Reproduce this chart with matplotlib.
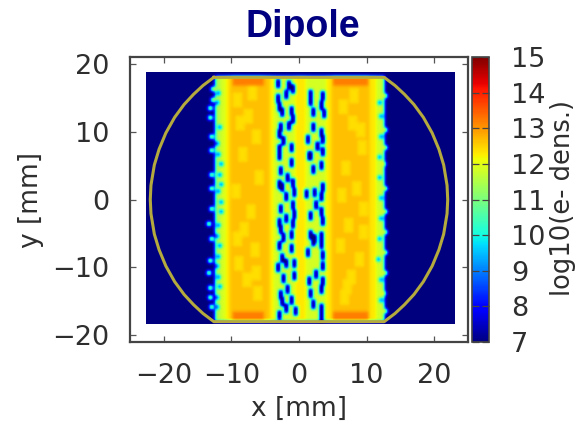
import numpy as np
import matplotlib
matplotlib.use("Agg")
import matplotlib.pyplot as plt

# --- values (x, y in mm; density in log10) ---
band_edges = [-22.7, -12.5, -11.7, -11.0, -10.3, -4.6, -3.9, -0.7, 0.9, 3.8, 4.6, 10.3, 11.2, 12.0, 12.4, 23.0]
band_dens  = [7.0, 11.5, 11.9, 12.3, 12.65, 12.3, 11.85, 12.3, 11.85, 12.3, 12.65, 12.3, 11.8, 11.6, 7.0]
cap_x0 = [-10.0, 4.9]
cap_x1 = [-5.4, 10.0]
cap_dens = 13.2

low_strip_x = [-3.2,-1.6,-1.0,-3.3,-2.1,-3.0,-2.7,-1.2,-1.0,-2.8,-1.6,-3.0,-1.3,-2.4,-3.1,
               -3.1,-1.3,-2.8,-1.8,-3.0,-2.7,-1.0,-0.85,-2.1,-1.1,-2.8,-0.85,-2.1,-3.0,-2.8,-1.0,-1.3,-2.4,
               -3.1,-1.3,-2.6,-2.1,-0.85,-3.2,-2.4,-0.85,-2.8,-1.8,-2.6,-2.1,-0.6,-3.0,-1.3,
               1.5,3.4,1.6,3.1,3.5,1.9,2.0,3.1,3.4,1.1,2.6,3.4,1.6,
               1.4,3.1,1.9,3.4,2.1,0.9,3.1,2.4,1.6,3.1,3.4,1.6,3.1,2.1,
               1.9,3.1,3.4,1.2,3.4,2.4,1.4,3.4,1.6,3.1,1.9,3.1,3.1]
low_strip_y = [16.8,16.6,16.0,14.6,15.2,13.5,12.6,12.9,11.7,10.4,10.7,7.2,7.5,8.4,9.4,
               6.2,5.3,4.0,3.0,2.1,1.6,2.3,0.8,0.35,-0.9,-1.6,-2.4,-2.9,-3.6,-4.6,-3.8,-5.3,-5.8,
               -7.0,-7.3,-8.7,-9.5,-9.5,-10.2,-11.7,-11.4,-14.1,-13.4,-15.1,-16.1,-16.6,-17.1,-14.9,
               15.2,15.1,14.3,13.6,12.4,12.6,10.4,9.7,8.7,8.7,7.7,6.9,6.3,
               6.2,4.8,4.3,1.6,0.8,0.6,0.35,-0.9,-2.6,-1.9,-3.3,-5.3,-5.5,-6.0,
               -6.3,-6.8,-8.3,-8.0,-9.9,-11.2,-12.2,-12.2,-13.9,-13.4,-15.6,-16.1,-17.4]
low_edge_x = [-12.0,-12.2,-11.9,-12.2,-12.0,-11.7,-11.8,-11.6,-12.0,-11.7,-11.7,-12.1,-12.2,-11.8,-12.1,-12.2,-12.0,-11.9,-12.2,-12.3,
              11.8,12.0,11.9,11.8,11.7,11.9,12.0,11.8,11.6,11.9,12.0]
low_edge_y = [15.5,14.0,10.5,8.0,6.5,5.0,3.5,2.0,1.0,-0.5,-2.0,-4.0,-5.5,-7.0,-8.5,-10.0,-11.5,-13.0,-14.5,-16.0,
              14.0,12.0,9.0,6.0,3.0,0.0,-3.0,-6.0,-9.0,-12.0,-15.0]
out_x = [-13.2,-13.2,-12.9,-12.9,-13.0,-13.0,-13.1,-13.1,-13.0,-13.4,-13.0,-13.3,-13.4,-13.3,-13.3,-13.0,
         12.5,12.6,12.5,12.4,12.6,12.5,12.6,12.6,12.5,12.4,12.5]
out_y = [13.2,11.9,16.0,14.5,9.0,7.0,3.5,1.5,-1.5,-3.8,-6.0,-9.2,-11.0,-13.2,-14.5,-16.0,
         15.0,10.0,7.5,5.0,1.5,-2.0,-5.0,-8.0,-11.0,-14.0,-16.5]
pale_x = [-9.2,-7.6,-6.4,-8.4,-6.0,-9.4,-7.2,-8.2,-6.6,-9.0,-7.8,-6.2,-8.8,-7.0,-9.3,-6.5,
          6.3,7.8,9.1,6.8,8.4,9.3,7.2,6.0,8.8,7.5,6.5,9.0,8.0,6.2,7.0,9.4]
pale_y = [14.5,12.0,9.0,6.5,3.0,1.0,-2.0,-4.5,-7.5,-9.5,-12.0,-14.0,11.0,15.5,-6.0,-11.0,
          13.5,11.0,7.5,4.5,1.5,-1.5,-4.0,-7.0,-9.0,-11.5,-14.5,10.0,15.0,0.5,-13.0,-5.0]
low_dens = 6.5
edge_dens = 8.5
out_dens = 12.0
pale_dens = 12.4

wall_x = [-12.6,-14.2,-15.6,-17.0,-18.4,-19.7,-20.7,-21.4,-21.9,-22.0,-21.9,-21.4,-20.7,-19.7,-18.4,-17.0,-15.6,-14.2,-12.6,
          12.6,14.2,15.6,17.0,18.4,19.7,20.7,21.4,21.9,22.0,21.9,21.4,20.7,19.7,18.4,17.0,15.6,14.2,12.6,-12.6]
wall_y = [18.0,16.8,15.5,14.0,12.1,9.8,7.4,5.1,2.1,0.0,-2.1,-5.1,-7.4,-9.8,-12.1,-14.0,-15.5,-16.8,-18.0,
          -18.0,-16.8,-15.5,-14.0,-12.1,-9.8,-7.4,-5.1,-2.1,0.0,2.1,5.1,7.4,9.8,12.1,14.0,15.5,16.8,18.0,18.0]

x_ticks = [-20, -10, 0, 10, 20]
y_ticks = [-20, -10, 0, 10, 20]
c_ticks = [7, 8, 9, 10, 11, 12, 13, 14, 15]

# --- grid assembled from the values above ---
cell = 0.2
x_c = np.arange(-22.7 + cell / 2, 23.0, cell)
y_c = np.arange(-18.4 + cell / 2, 18.6, cell)
Z = np.full((len(y_c), len(x_c)), 7.0)
in_y = np.abs(y_c) <= 18.0
prof = np.array(band_dens)[np.clip(np.searchsorted(band_edges, x_c) - 1, 0, len(band_dens) - 1)]
Z[in_y, :] = prof
for a, b in zip(cap_x0, cap_x1):
    mask_x = (x_c >= a) & (x_c <= b)
    mask_y = in_y & (np.abs(y_c) >= 16.6)
    Z[np.ix_(mask_y, mask_x)] = cap_dens

def put(xs, ys, v, wide, tall):
    for px, py in zip(xs, ys):
        r = np.argmin(np.abs(y_c - py))
        c = np.argmin(np.abs(x_c - px))
        Z[max(r - tall // 2, 0):r + tall // 2 + 1, max(c - wide // 2, 0):c + wide // 2 + 1] = v

put(pale_x, pale_y, pale_dens, 7, 11)
put(low_strip_x, low_strip_y, low_dens, 3, 6)
put(low_edge_x, low_edge_y, edge_dens, 2, 3)
put(out_x, out_y, out_dens, 3, 3)

# soften the grid the way the blurred reference image looks
kernel = np.array([1, 3, 5, 3, 1], dtype=float)
kernel /= kernel.sum()
pad = np.pad(Z, 2, mode="edge")
pad = np.apply_along_axis(lambda v: np.convolve(v, kernel, mode="same"), 0, pad)
pad = np.apply_along_axis(lambda v: np.convolve(v, kernel, mode="same"), 1, pad)
Z = np.clip(pad[2:-2, 2:-2], 7, 15)

W, H = 578, 426
fig = plt.figure(figsize=(W / 100, H / 100), dpi=100, facecolor="white")
ink = "#2e2e2e"
ax = fig.add_axes([130 / W, 1 - 342 / H, 338 / W, 285 / H])
im = ax.imshow(Z, origin="lower", extent=[-22.7, 23.0, -18.4, 18.6], cmap="jet", vmin=7, vmax=15,
               interpolation="bilinear", aspect="auto")
ax.plot(wall_x, wall_y, color="#b4aa3e", lw=2.2, solid_joinstyle="round")
ax.set_xlim(-25, 25)
ax.set_ylim(-21, 21)
ax.set_xticks(x_ticks)
ax.set_yticks(y_ticks)
ax.tick_params(direction="in", top=True, right=True, length=4.5, width=0.9, color="#555555",
               labelsize=19.5, labelcolor=ink)
ax.tick_params(axis="x", pad=15)
ax.tick_params(axis="y", pad=15)
for s in ax.spines.values():
    s.set_color("#444444")
    s.set_linewidth(1.6)
ax.set_xlabel("x [mm]", fontsize=19, color=ink, labelpad=5)
ax.set_ylabel("y [mm]", fontsize=19, color=ink, labelpad=6)

cax = fig.add_axes([472 / W, 1 - 342 / H, 17 / W, 285 / H])
cb = fig.colorbar(im, cax=cax)
cb.set_ticks(c_ticks)
cb.ax.tick_params(direction="in", length=5, width=0.9, color="#444444", labelsize=19.5, labelcolor=ink, pad=16)
cb.ax.yaxis.set_tick_params(left=True, right=True)
cb.outline.set_edgecolor("#444444")
cb.outline.set_linewidth(1.2)
fig.text(563 / W, 1 - 198 / H, "log10(e- dens.)", rotation=90, ha="center", va="center", fontsize=18.5, color=ink)
fig.text(303 / W, 1 - 27 / H, "Dipole", ha="center", va="center", fontsize=27, fontweight="bold",
         family="Liberation Sans", color="#000080")
fig.savefig("out.png", dpi=100)
